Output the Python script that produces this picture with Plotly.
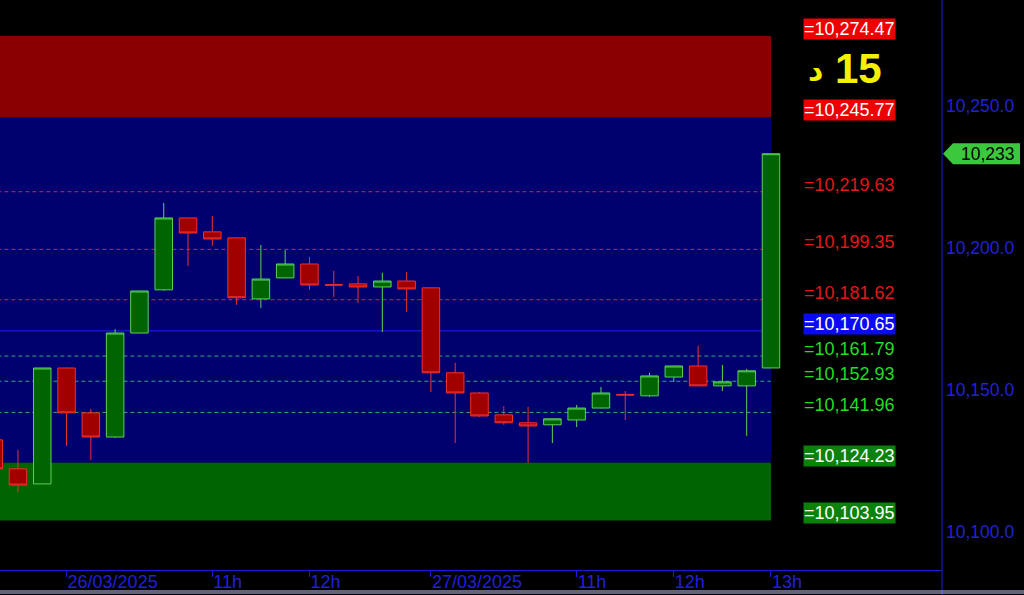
import plotly.graph_objects as go

# ---------------- data ----------------
times = [
    "25/03 12:30", "25/03 12:45", "25/03 13:00",
    "26/03 09:30", "26/03 09:45", "26/03 10:00", "26/03 10:15", "26/03 10:30",
    "26/03 10:45", "26/03 11:00", "26/03 11:15", "26/03 11:30", "26/03 11:45",
    "26/03 12:00", "26/03 12:15", "26/03 12:30", "26/03 12:45", "26/03 13:00",
    "27/03 09:30", "27/03 09:45", "27/03 10:00", "27/03 10:15", "27/03 10:30",
    "27/03 10:45", "27/03 11:00", "27/03 11:15", "27/03 11:30", "27/03 11:45",
    "27/03 12:00", "27/03 12:15", "27/03 12:30", "27/03 12:45", "27/03 13:00",
]
opens = [10132.3, 10122.1, 10116.8, 10157.6, 10141.8, 10133.3, 10169.9, 10185.1,
         10210.4, 10205.5, 10203.4, 10181.9, 10189.3, 10194.2, 10186.9, 10187.2,
         10186.1, 10188.2, 10185.8, 10155.9, 10148.8, 10141.1, 10138.3, 10137.6,
         10139.3, 10143.5, 10148.3, 10147.8, 10154.4, 10158.3, 10151.3, 10151.3,
         10157.6]
highs = [10134.5, 10128.8, 10157.6, 10157.8, 10143.2, 10171.3, 10184.7, 10215.7,
         10210.5, 10211.1, 10203.4, 10200.9, 10199.1, 10196.7, 10191.8, 10190.0,
         10191.1, 10191.4, 10185.8, 10159.4, 10149.1, 10144.2, 10143.9, 10139.8,
         10144.6, 10150.9, 10149.5, 10155.9, 10158.4, 10165.4, 10158.7, 10157.3,
         10233.0]
lows = [10120.0, 10114.0, 10116.8, 10130.2, 10125.2, 10133.0, 10169.9, 10184.8,
        10193.5, 10200.6, 10179.8, 10178.7, 10189.2, 10185.1, 10182.6, 10180.5,
        10170.3, 10177.3, 10149.2, 10131.2, 10140.4, 10137.6, 10124.2, 10131.2,
        10136.8, 10143.4, 10139.3, 10147.4, 10152.7, 10151.2, 10149.5, 10133.7,
        10157.6]
closes = [10122.1, 10116.4, 10157.6, 10141.8, 10133.3, 10169.9, 10184.7, 10210.4,
          10205.1, 10203.0, 10182.3, 10188.9, 10194.2, 10186.8, 10186.8, 10186.1,
          10188.2, 10185.4, 10155.9, 10148.8, 10140.7, 10138.3, 10137.2, 10139.7,
          10143.5, 10148.8, 10148.1, 10154.8, 10158.3, 10151.3, 10152.7, 10156.6,
          10233.0]

tick_times = ["26/03 09:30", "26/03 11:00", "26/03 12:00", "27/03 09:30",
              "27/03 11:00", "27/03 12:00", "27/03 13:00"]
tick_text = ["26/03/2025", "11h", "12h", "27/03/2025", "11h", "12h", "13h"]

y_ticks = [10100, 10150, 10200, 10250]

red_zone = [10245.77, 10274.47]
mid_zone = [10124.23, 10245.77]
green_zone = [10103.95, 10124.23]
red_levels = [10219.63, 10199.35, 10181.62]
pivot_level = [10170.65]
green_levels = [10161.79, 10152.93, 10141.96]
red_boxes = [10274.47, 10245.77]
green_boxes = [10124.23, 10103.95]
timeframe = "15"
timeframe_unit = "د"

# ---------------- styles ----------------
BLUE_TXT = "#2020d8"
FONT = "Liberation Sans, Arial, sans-serif"
LBL_SIZE = 18
x_left, x_right = 0.26, 39.04
y_low, y_high = 10086.5, 10287.1
last_idx = len(times) - 1
LBL_X = 803 / 942

fig = go.Figure()

fig.add_trace(go.Candlestick(
    x=times, open=opens, high=highs, low=lows, close=closes,
    increasing=dict(line=dict(color="#5ad25a", width=1), fillcolor="#006400"),
    decreasing=dict(line=dict(color="#f03030", width=1), fillcolor="#a00000"),
    showlegend=False, hoverinfo="skip", whiskerwidth=0,
))

shapes = []
for (lo, hi), col in [(red_zone, "#8a0000"), (mid_zone, "#00006e"), (green_zone, "#006400")]:
    shapes.append(dict(type="rect", xref="x", yref="y", x0=-1, x1=last_idx,
                       y0=lo, y1=hi, fillcolor=col, line_width=0, layer="below"))
for v in red_levels:
    shapes.append(dict(type="line", xref="x", yref="y", x0=-1, x1=last_idx, y0=v, y1=v,
                       line=dict(color="#d81e58", width=1, dash="4px,3px"), layer="below"))
for v in green_levels:
    shapes.append(dict(type="line", xref="x", yref="y", x0=-1, x1=last_idx, y0=v, y1=v,
                       line=dict(color="#2eaa7c", width=1, dash="4px,3px"), layer="below"))
for v in pivot_level:
    shapes.append(dict(type="line", xref="x", yref="y", x0=-1, x1=last_idx, y0=v, y1=v,
                       line=dict(color="#2020f0", width=1), layer="below"))

# right axis frame line and bottom lines
shapes.append(dict(type="line", xref="paper", yref="paper", x0=1, x1=1, y0=-0.05, y1=1,
                   line=dict(color="#1c1cd8", width=1)))
for yy in [-21 / 570, -23 / 570]:
    shapes.append(dict(type="line", xref="paper", yref="paper", x0=0, x1=1.09, y0=yy, y1=yy,
                       line=dict(color="#c8c8f0", width=1)))

# last price flag
shapes.append(dict(type="path", xref="paper", yref="y", xsizemode="pixel", ysizemode="pixel",
                   xanchor=1, yanchor=closes[-1],
                   path="M 1,0 L 11,10.5 L 78,10.5 L 78,-10.5 L 11,-10.5 Z",
                   fillcolor="#3cc83c", line=dict(width=0)))

annotations = []


def fmt(v):
    return "=" + f"{v:,.2f}"


def level_label(v, color, bg=None):
    d = dict(x=LBL_X, xref="paper", y=v, yref="y", xanchor="left", yanchor="middle",
             yshift=7, text=fmt(v), showarrow=False, borderpad=0,
             font=dict(family=FONT, size=LBL_SIZE, color=color))
    if bg:
        d["bgcolor"] = bg
    return d


for v in red_boxes:
    annotations.append(level_label(v, "white", "#ee0000"))
for v in green_boxes:
    annotations.append(level_label(v, "white", "#0a820a"))
for v in pivot_level:
    annotations.append(level_label(v, "white", "#0a0af0"))
for v in red_levels:
    annotations.append(level_label(v, "#e01818"))
for v in green_levels:
    annotations.append(level_label(v, "#22dd22"))

mid_red = (red_zone[0] + red_zone[1]) / 2
annotations.append(dict(x=858 / 942, xref="paper", y=mid_red, yref="y", xanchor="center",
                        yanchor="middle", yshift=8, text="<b>" + timeframe + "</b>", showarrow=False,
                        font=dict(family=FONT, size=42, color="#f5f000")))
annotations.append(dict(x=815 / 942, xref="paper", y=mid_red, yref="y", xanchor="center",
                        yanchor="middle", yshift=7, text="<b>" + timeframe_unit + "</b>", showarrow=False,
                        font=dict(family="DejaVu Sans", size=30, color="#f5f000")))
annotations.append(dict(x=1, xref="paper", y=closes[-1], yref="y", xanchor="left", yanchor="middle",
                        xshift=17, text=f"{closes[-1]:,.0f}", showarrow=False,
                        font=dict(family=FONT, size=17.5, color="black")))

fig.update_layout(
    width=1024, height=595,
    margin=dict(l=0, r=82, t=0, b=25),
    paper_bgcolor="black", plot_bgcolor="black",
    showlegend=False, boxgap=0, boxgroupgap=0.28,
    shapes=shapes, annotations=annotations,
    xaxis=dict(type="category", categoryorder="array", categoryarray=times,
               range=[x_left, x_right], rangeslider=dict(visible=False),
               showgrid=False, zeroline=False,
               showline=True, linecolor="#1c1cd8", linewidth=1,
               tickmode="array", tickvals=tick_times, ticktext=tick_text,
               ticks="outside", ticklen=6, tickcolor="#1c1cd8", tickwidth=1,
               ticklabelposition="outside right",
               tickfont=dict(family=FONT, size=18, color=BLUE_TXT)),
    yaxis=dict(side="right", range=[y_low, y_high], showgrid=False, zeroline=False,
               showline=False, tickmode="array", tickvals=y_ticks,
               ticktext=[f"{v:,.1f}" for v in y_ticks], ticks="",
               tickfont=dict(family=FONT, size=17.5, color=BLUE_TXT)),
)
try:
    fig.update_xaxes(ticklabelstandoff=-5)
except Exception:
    pass
try:
    fig.update_yaxes(ticklabelstandoff=3)
except Exception:
    pass

fig.write_html("out.html", config={"displayModeBar": False, "staticPlot": True},
               post_script="document.body.style.margin='0';document.body.style.padding='0';")
